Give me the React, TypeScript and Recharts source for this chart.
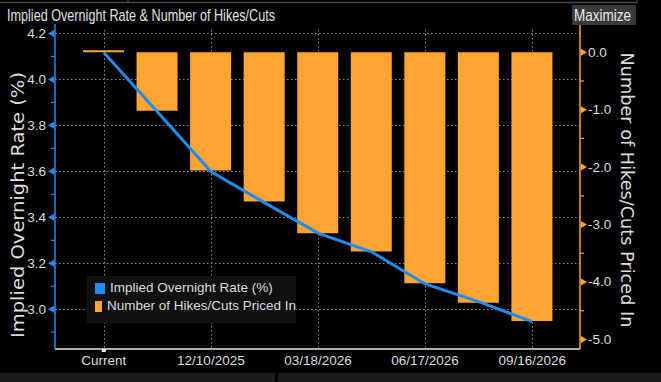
import React from 'react';
import { ComposedChart, Bar, Line, XAxis, YAxis, CartesianGrid, Legend } from 'recharts';

const categories = ['Current', '10/29/2025', '12/10/2025', '01/28/2026', '03/18/2026', '04/29/2026', '06/17/2026', '07/29/2026', '09/16/2026'];
const impliedRate = [4.117, 3.859, 3.599, 3.464, 3.331, 3.25, 3.11, 3.033, 2.946];
const hikesCuts = [0, -1.02, -2.06, -2.6, -3.15, -3.47, -4.02, -4.36, -4.68];
const xTickLabels = ['Current', '12/10/2025', '03/18/2026', '06/17/2026', '09/16/2026'];
const leftTicks = [2.9, 3.0, 3.1, 3.2, 3.3, 3.4, 3.5, 3.6, 3.7, 3.8, 3.9, 4.0, 4.1, 4.2];
const leftMajor = [3.0, 3.2, 3.4, 3.6, 3.8, 4.0, 4.2];
const rightTicks = [-5, -4.5, -4, -3.5, -3, -2.5, -2, -1.5, -1, -0.5, 0];
const rightMajor = [-5, -4, -3, -2, -1, 0];
const leftDomain = [2.827, 4.241];
const rightDomain = [-5.167, 0.492];

const data = categories.map((c, i) => ({ date: c, rate: impliedRate[i], hikes: hikesCuts[i] }));

const BLUE = '#1e8cf0';
const ORANGE = '#fca532';
const TEXT = '#dcdcdc';
const GRID = '#8c8c8c';
const TICK_FONT = '"Liberation Sans", Arial, sans-serif';
const TITLE_FONT = '"DejaVu Sans", sans-serif';

const isIn = (arr: number[], v: number) => arr.some((m) => Math.abs(m - v) < 1e-6);

const dottedPath = (x1: number, y1: number, x2: number, y2: number) => {
  const len = Math.hypot(x2 - x1, y2 - y1);
  const dx = (x2 - x1) / (len || 1);
  const dy = (y2 - y1) / (len || 1);
  let d = '';
  for (let s = 0; s < len; s += 4) {
    const e = Math.min(s + 1.5, len);
    d += `M${x1 + dx * s} ${y1 + dy * s}L${x1 + dx * e} ${y1 + dy * e}`;
  }
  return d;
};

const HGrid = (p: any) => {
  const { x1, x2, y1, index } = p;
  if (typeof index !== 'number' || index >= leftTicks.length) return <g key={`h-${index}`} />;
  if (!isIn(leftMajor, leftTicks[index])) return <g key={`h-${index}`} />;
  const y = Math.round(y1) + 0.5;
  return <path key={`h-${index}`} d={dottedPath(x1, y, x2, y)} stroke={GRID} strokeWidth={1} fill="none" />;
};

const VGrid = (p: any) => {
  const { x1, y1, y2, index } = p;
  if (typeof index !== 'number' || index >= xTickLabels.length) return <g key={`v-${index}`} />;
  const x = Math.round(x1) + 0.5;
  return <path key={`v-${index}`} d={dottedPath(x, y1 + 6, x, y2)} stroke={GRID} strokeWidth={1} fill="none" />;
};

const LeftTick = (props: any) => {
  const { x, y, payload } = props;
  const v = payload.value as number;
  if (!isIn(leftMajor, v)) {
    return <line x1={x - 4} x2={x} y1={y} y2={y} stroke={BLUE} strokeWidth={1.2} />;
  }
  return (
    <g>
      <line x1={x - 3} x2={x} y1={y} y2={y} stroke={BLUE} strokeWidth={1.2} />
      <path d={`M${x - 1} ${y - 3.5} L${x - 7} ${y} L${x - 1} ${y + 3.5} Z`} fill={BLUE} />
      <text x={x - 9} y={y} dy={4.5} textAnchor="end" fill={TEXT} fontSize={13.5} fontFamily={TICK_FONT}>
        {v.toFixed(1)}
      </text>
    </g>
  );
};

const RightTick = (props: any) => {
  const { x, y, payload } = props;
  const v = payload.value as number;
  if (!isIn(rightMajor, v)) {
    return <line x1={x} x2={x + 4} y1={y} y2={y} stroke={ORANGE} strokeWidth={1.2} />;
  }
  return (
    <g>
      <line x1={x} x2={x + 3} y1={y} y2={y} stroke={ORANGE} strokeWidth={1.2} />
      <path d={`M${x + 1} ${y - 3.5} L${x + 7} ${y} L${x + 1} ${y + 3.5} Z`} fill={ORANGE} />
      <text x={x + 8} y={y} dy={4.5} textAnchor="start" fill={TEXT} fontSize={13.5} fontFamily={TICK_FONT}>
        {v === 0 ? '0.0' : v.toFixed(1)}
      </text>
    </g>
  );
};

const XTick = (props: any) => {
  const { x, y, payload } = props;
  return (
    <g>
      {payload.value === 'Current' && <rect x={x - 2} y={y} width={4} height={3} fill="#f0f0f0" />}
      <text x={x} y={y + 16} textAnchor="middle" fill={TEXT} fontSize={13.5} fontFamily={TICK_FONT}>
        {payload.value}
      </text>
    </g>
  );
};

const LeftLabel = () => {
  const cx = 17;
  const cy = 205;
  return (
    <text
      x={cx}
      y={cy}
      transform={`rotate(-90, ${cx}, ${cy})`}
      textAnchor="middle"
      dominantBaseline="central"
      fill={TEXT}
      fontSize={18}
      fontFamily={TITLE_FONT}
      textLength={266}
      lengthAdjust="spacingAndGlyphs"
    >
      Implied Overnight Rate (%)
    </text>
  );
};

const RightLabel = () => {
  const cx = 627;
  const cy = 190;
  return (
    <text
      x={cx}
      y={cy}
      transform={`rotate(90, ${cx}, ${cy})`}
      textAnchor="middle"
      dominantBaseline="central"
      fill={TEXT}
      fontSize={17.5}
      fontFamily={TITLE_FONT}
      textLength={275}
      lengthAdjust="spacingAndGlyphs"
    >
      Number of Hikes/Cuts Priced In
    </text>
  );
};

const renderLegend = (props: any) => {
  const order = ['rate', 'hikes'];
  const items = [...(props.payload || [])].sort(
    (a: any, b: any) => order.indexOf(a.dataKey) - order.indexOf(b.dataKey)
  );
  return (
    <div style={{ background: '#101010', padding: '3px 0 8px 8px', width: 201, boxSizing: 'content-box' }}>
      {items.map((it: any) => (
        <div key={it.dataKey} style={{ display: 'flex', alignItems: 'center', height: 18 }}>
          <span style={{ display: 'inline-block', width: 10, height: 11, background: it.color, marginRight: 5 }} />
          <span style={{ fontFamily: TICK_FONT, fontSize: 13.5, color: TEXT, whiteSpace: 'nowrap', lineHeight: '18px' }}>
            {it.value}
          </span>
        </div>
      ))}
    </div>
  );
};

export default function App() {
  return (
    <div style={{ position: 'fixed', left: 0, top: 0, width: 661, height: 382, background: '#000', overflow: 'hidden' }}>
      <div style={{ position: 'absolute', left: 0, top: 0 }}>
        <ComposedChart width={661} height={382} data={data} margin={{ top: 24, right: 0, bottom: 0, left: 0 }}>
          <CartesianGrid yAxisId="left" stroke={GRID} horizontal={HGrid} vertical={VGrid} />
          <XAxis
            dataKey="date"
            ticks={xTickLabels}
            interval={0}
            padding={{ left: 22, right: 21 }}
            height={33}
            tickSize={0}
            tickMargin={0}
            tickLine={false}
            axisLine={{ stroke: '#e6e6e6', strokeWidth: 1.5 }}
            tick={<XTick />}
          />
          <YAxis
            yAxisId="left"
            orientation="left"
            width={55}
            type="number"
            domain={leftDomain}
            allowDataOverflow
            ticks={leftTicks}
            interval={0}
            tickSize={0}
            tickMargin={0}
            tickLine={false}
            axisLine={{ stroke: BLUE, strokeWidth: 1.5 }}
            tick={<LeftTick />}
            label={{ content: <LeftLabel /> }}
          />
          <YAxis
            yAxisId="right"
            orientation="right"
            width={81}
            type="number"
            domain={rightDomain}
            allowDataOverflow
            ticks={rightTicks}
            interval={0}
            tickSize={0}
            tickMargin={0}
            tickLine={false}
            axisLine={{ stroke: ORANGE, strokeWidth: 1.5 }}
            tick={<RightTick />}
            label={{ content: <RightLabel /> }}
          />
          <Bar
            yAxisId="right"
            dataKey="hikes"
            name="Number of Hikes/Cuts Priced In"
            fill={ORANGE}
            barSize={41}
            minPointSize={2}
            isAnimationActive={false}
          />
          <Line
            yAxisId="left"
            dataKey="rate"
            name="Implied Overnight Rate (%)"
            type="linear"
            stroke={BLUE}
            strokeWidth={3}
            dot={false}
            activeDot={false}
            isAnimationActive={false}
          />
          <Legend
            layout="vertical"
            align="center"
            verticalAlign="middle"
            content={renderLegend}
            wrapperStyle={{ left: 87, top: 276, width: 209, height: 47 }}
          />
        </ComposedChart>
      </div>
      <svg width={661} height={382} style={{ position: 'absolute', left: 0, top: 0, pointerEvents: 'none' }}>
        <line x1={0} x2={637} y1={2.5} y2={2.5} stroke="#4a4a4a" strokeWidth={1.5} />
        <line x1={128} x2={128} y1={0} y2={2.5} stroke="#4a4a4a" strokeWidth={1} />
        <line x1={637} x2={637} y1={0} y2={3} stroke="#4a4a4a" strokeWidth={1} />
        <text x={7} y={21} fill="#e2e2e2" fontSize={17} fontFamily={TICK_FONT} textLength={268} lengthAdjust="spacingAndGlyphs">
          Implied Overnight Rate &amp; Number of Hikes/Cuts
        </text>
        <rect x={572} y={5} width={64} height={20} fill="#3a3a3a" />
        <text x={574} y={20.5} fill="#ececec" fontSize={16.5} fontFamily={TICK_FONT} textLength={57} lengthAdjust="spacingAndGlyphs">
          Maximize
        </text>
        <rect x={0} y={373} width={275} height={9} fill="#1b1b1b" />
        <rect x={278} y={373} width={383} height={9} fill="#1b1b1b" />
      </svg>
    </div>
  );
}
